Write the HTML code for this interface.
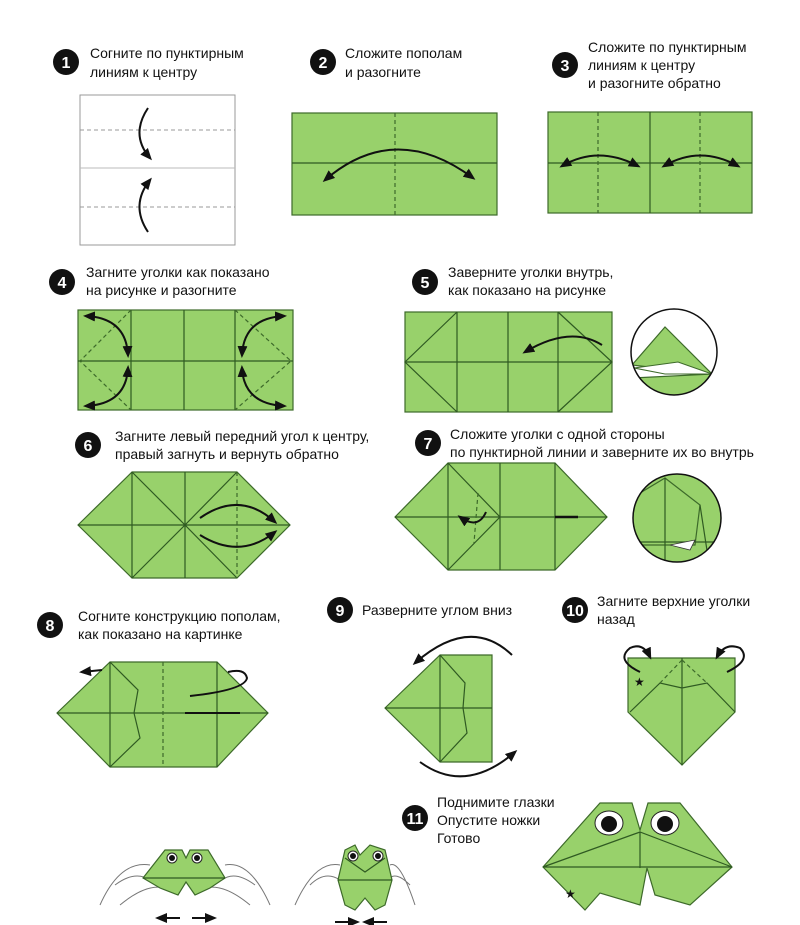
<!DOCTYPE html>
<html><head><meta charset="utf-8"><style>
html,body{margin:0;padding:0;background:#fff}
svg{display:block}
text{font-family:"Liberation Sans",sans-serif;font-size:14px;fill:#111}
.n{fill:#fff;font-weight:bold;font-size:16px;text-anchor:middle}
.g{fill:#98d16b;stroke:#3d6a2a;stroke-width:1.2}
.l{stroke:#2f5a22;stroke-width:1.2;fill:none}
.d{stroke:#3d6a2a;stroke-width:1.2;stroke-dasharray:4 3;fill:none}
.a{stroke:#111;stroke-width:2;fill:none;marker-end:url(#ah)}
.b{marker-start:url(#as)}
.h{stroke:#777;stroke-width:1;fill:none}
</style></head><body>
<svg width="800" height="925" viewBox="0 0 800 925">
<defs>
<marker id="ah" markerUnits="userSpaceOnUse" markerWidth="12" markerHeight="10" refX="9" refY="5" orient="auto"><path d="M0,0 L12,5 L0,10 Z" fill="#111"/></marker>
<marker id="as" markerUnits="userSpaceOnUse" markerWidth="12" markerHeight="10" refX="3" refY="5" orient="auto"><path d="M12,0 L0,5 L12,10 Z" fill="#111"/></marker>
<clipPath id="c5"><circle cx="674" cy="352" r="43"/></clipPath>
<clipPath id="c7"><circle cx="677" cy="518" r="44"/></clipPath>
</defs>

<!-- step 1 -->
<circle cx="66" cy="62" r="13" fill="#111"/><text class="n" x="66" y="68">1</text>
<text x="90" y="58">Согните по пунктирным</text><text x="90" y="77">линиям к центру</text>
<rect x="80" y="95" width="155" height="150" fill="#fff" stroke="#999"/>
<line x1="80" y1="130" x2="235" y2="130" stroke="#999" stroke-dasharray="4 3"/>
<line x1="80" y1="207" x2="235" y2="207" stroke="#999" stroke-dasharray="4 3"/>
<line x1="80" y1="168" x2="235" y2="168" stroke="#bbb"/>
<path class="a" d="M148,108 Q130,135 150,158"/>
<path class="a" d="M148,232 Q130,205 150,180"/>

<!-- step 2 -->
<circle cx="323" cy="62" r="13" fill="#111"/><text class="n" x="323" y="68">2</text>
<text x="345" y="58">Сложите пополам</text><text x="345" y="77">и разогните</text>
<rect class="g" x="292" y="113" width="205" height="102"/>
<line class="l" x1="292" y1="163" x2="497" y2="163"/>
<line class="d" x1="395" y1="113" x2="395" y2="215"/>
<path class="a b" d="M325,180 Q395,120 473,178"/>

<!-- step 3 -->
<circle cx="565" cy="65" r="13" fill="#111"/><text class="n" x="565" y="71">3</text>
<text x="588" y="52">Сложите по пунктирным</text><text x="588" y="70">линиям к центру</text><text x="588" y="88">и разогните обратно</text>
<rect class="g" x="548" y="112" width="204" height="101"/>
<line class="l" x1="548" y1="163" x2="752" y2="163"/>
<line class="l" x1="650" y1="112" x2="650" y2="213"/>
<line class="d" x1="598" y1="112" x2="598" y2="213"/><line class="d" x1="700" y1="112" x2="700" y2="213"/>
<path class="a b" d="M562,166 Q598,145 638,166"/>
<path class="a b" d="M664,166 Q700,145 738,166"/>

<!-- step 4 -->
<circle cx="62" cy="282" r="13" fill="#111"/><text class="n" x="62" y="288">4</text>
<text x="86" y="277">Загните уголки как показано</text><text x="86" y="295">на рисунке и разогните</text>
<rect class="g" x="78" y="310" width="215" height="100"/>
<line class="l" x1="78" y1="361" x2="293" y2="361"/>
<line class="l" x1="131" y1="310" x2="131" y2="410"/><line class="l" x1="184" y1="310" x2="184" y2="410"/><line class="l" x1="235" y1="310" x2="235" y2="410"/>
<path class="d" d="M131,310 L80,361 L131,410 M235,310 L291,361 L235,410"/>
<path class="a b" d="M86,316 Q126,318 128,355"/><path class="a b" d="M86,406 Q126,404 128,368"/>
<path class="a b" d="M284,316 Q244,318 242,355"/><path class="a b" d="M284,406 Q244,404 242,368"/>

<!-- step 5 -->
<circle cx="425" cy="282" r="13" fill="#111"/><text class="n" x="425" y="288">5</text>
<text x="448" y="277">Заверните уголки внутрь,</text><text x="448" y="295">как показано на рисунке</text>
<rect class="g" x="405" y="312" width="207" height="100"/>
<line class="l" x1="405" y1="362" x2="612" y2="362"/>
<line class="l" x1="457" y1="312" x2="457" y2="412"/><line class="l" x1="508" y1="312" x2="508" y2="412"/><line class="l" x1="558" y1="312" x2="558" y2="412"/>
<path class="l" d="M457,312 L405,362 L457,412 M558,312 L612,362 L558,412"/>
<path class="a" d="M602,345 Q570,325 525,352"/>
<g clip-path="url(#c5)">
<path class="g" d="M632,365 L665,327 L712,374 Z"/>
<path d="M634,368 L678,362 L712,374 L665,374 Z" fill="#fff" stroke="#3d6a2a"/>
<path class="g" d="M632,378 L712,374 L690,400 L632,400 Z"/>
</g>
<circle cx="674" cy="352" r="43" fill="none" stroke="#111" stroke-width="1.5"/>

<!-- step 6 -->
<circle cx="88" cy="445" r="13" fill="#111"/><text class="n" x="88" y="451">6</text>
<text x="115" y="441">Загните левый передний угол к центру,</text><text x="115" y="459">правый загнуть и вернуть обратно</text>
<polygon class="g" points="78,525 132,472 237,472 290,525 237,578 132,578"/>
<path class="l" d="M78,525 L290,525 M132,472 L132,578 M185,472 L185,578 M132,472 L185,525 L132,578 M237,472 L185,525 L237,578"/>
<line class="d" x1="237" y1="472" x2="237" y2="578"/>
<path class="a" d="M200,518 Q240,490 275,522"/><path class="a" d="M200,535 Q240,560 275,532"/>

<!-- step 7 -->
<circle cx="428" cy="443" r="13" fill="#111"/><text class="n" x="428" y="449">7</text>
<text x="450" y="439">Сложите уголки с одной стороны</text><text x="450" y="457">по пунктирной линии и заверните их во внутрь</text>
<polygon class="g" points="395,517 448,463 555,463 607,517 555,570 448,570"/>
<path class="l" d="M395,517 L607,517 M448,463 L448,570 M500,463 L500,570 M555,463 L555,570 M448,463 L500,517 L448,570"/>
<line x1="555" y1="517" x2="578" y2="517" stroke="#111" stroke-width="2.5"/>
<path class="d" d="M478,493 L474,543"/>
<path class="a" d="M486,512 Q478,530 460,517"/>
<g clip-path="url(#c7)">
<rect x="630" y="470" width="100" height="100" fill="#98d16b"/>
<path class="g" d="M620,505 L665,478 L700,505 L695,545 L620,545"/>
<path class="l" d="M630,542 L725,542 M665,478 L665,570 M700,505 L710,570"/>
<path d="M670,545 L695,540 L690,550 Z" fill="#fff" stroke="#333" stroke-width="0.8"/>
</g>
<circle cx="677" cy="518" r="44" fill="none" stroke="#111" stroke-width="1.5"/>

<!-- step 8 -->
<circle cx="50" cy="625" r="13" fill="#111"/><text class="n" x="50" y="631">8</text>
<text x="78" y="621">Согните конструкцию пополам,</text><text x="78" y="639">как показано на картинке</text>
<polygon class="g" points="57,713 110,662 217,662 268,713 217,767 110,767"/>
<path class="l" d="M57,713 L268,713 M110,662 L110,767 M217,662 L217,767 M110,662 L138,690 L134,713 L140,738 L110,767"/>
<line class="d" x1="163" y1="662" x2="163" y2="767"/>
<line x1="185" y1="713" x2="240" y2="713" stroke="#111" stroke-width="2"/>
<path d="M190,696 Q245,690 247,678 Q245,668 228,672" stroke="#111" stroke-width="2" fill="none"/>
<path class="a" d="M102,670 L82,672"/>

<!-- step 9 -->
<circle cx="340" cy="610" r="13" fill="#111"/><text class="n" x="340" y="616">9</text>
<text x="362" y="615">Разверните углом вниз</text>
<polygon class="g" points="385,708 440,655 492,655 492,762 440,762"/>
<path class="l" d="M440,655 L440,762 M385,708 L492,708 M440,655 L465,683 L463,708 L467,733 L440,762"/>
<path class="a" d="M512,655 Q470,615 415,663"/>
<path class="a" d="M420,762 Q465,795 515,752"/>

<!-- step 10 -->
<circle cx="575" cy="610" r="13" fill="#111"/><text class="n" x="575" y="616">10</text>
<text x="597" y="606">Загните верхние уголки</text><text x="597" y="624">назад</text>
<polygon class="g" points="628,658 735,658 735,712 682,765 628,712"/>
<path class="l" d="M682,658 L682,765 M630,712 L660,683 L682,688 L707,683 L735,712"/>
<path class="d" d="M682,660 L660,683 M682,660 L707,683"/>
<path class="a" d="M640,672 Q615,660 630,648 Q643,642 650,657"/>
<path class="a" d="M727,672 Q752,660 740,648 Q725,642 717,657"/>
<text x="634" y="686" style="font-size:12px">★</text>

<!-- step 11 -->
<circle cx="415" cy="818" r="13" fill="#111"/><text class="n" x="415" y="824">11</text>
<text x="437" y="807">Поднимите глазки</text><text x="437" y="825">Опустите ножки</text><text x="437" y="843">Готово</text>
<path class="g" d="M543,867 L600,803 L632,803 L640,830 L648,803 L680,803 L732,867 L690,905 L655,895 L647,868 L640,905 L600,893 L585,910 Z"/>
<path class="l" d="M543,867 L640,832 L732,867 M543,867 L732,867 M640,832 L640,868"/>
<ellipse cx="609" cy="823" rx="14" ry="12" fill="#fff" stroke="#222"/><circle cx="609" cy="824" r="8" fill="#111"/>
<ellipse cx="665" cy="823" rx="14" ry="12" fill="#fff" stroke="#222"/><circle cx="665" cy="824" r="8" fill="#111"/>
<text x="565" y="898" style="font-size:12px">★</text>

<!-- hands frog 1 -->
<path class="h" d="M100,905 Q120,860 150,865 M270,905 Q250,860 225,865 M115,885 Q135,870 150,880 M255,885 Q235,870 222,880 M120,905 Q150,880 170,890 M250,905 Q220,880 200,890"/>
<path class="g" d="M143,878 L165,850 L182,850 L186,858 L190,850 L208,850 L225,878 L210,888 L195,895 L186,882 L178,895 L160,888 Z"/>
<path class="l" d="M143,878 L225,878"/>
<circle cx="172" cy="858" r="5" fill="#fff" stroke="#222"/><circle cx="172" cy="858" r="3" fill="#111"/>
<circle cx="197" cy="858" r="5" fill="#fff" stroke="#222"/><circle cx="197" cy="858" r="3" fill="#111"/>
<path class="a" d="M180,918 L158,918"/><path class="a" d="M192,918 L214,918"/>
<!-- hands frog 2 -->
<path class="h" d="M295,905 Q315,860 340,865 M415,905 Q400,860 390,865 M310,885 Q325,870 340,880 M410,885 Q395,870 388,880"/>
<path class="g" d="M338,880 L345,850 L355,845 L360,855 L370,845 L385,850 L392,880 L385,905 L375,910 L365,898 L355,910 L345,905 Z"/>
<path class="l" d="M338,880 L392,880 M345,858 L365,872 L385,858"/>
<circle cx="353" cy="856" r="5" fill="#fff" stroke="#222"/><circle cx="353" cy="856" r="3" fill="#111"/>
<circle cx="378" cy="856" r="5" fill="#fff" stroke="#222"/><circle cx="378" cy="856" r="3" fill="#111"/>
<path class="a" d="M335,922 L357,922"/><path class="a" d="M387,922 L365,922"/>
</svg>
</body></html>
